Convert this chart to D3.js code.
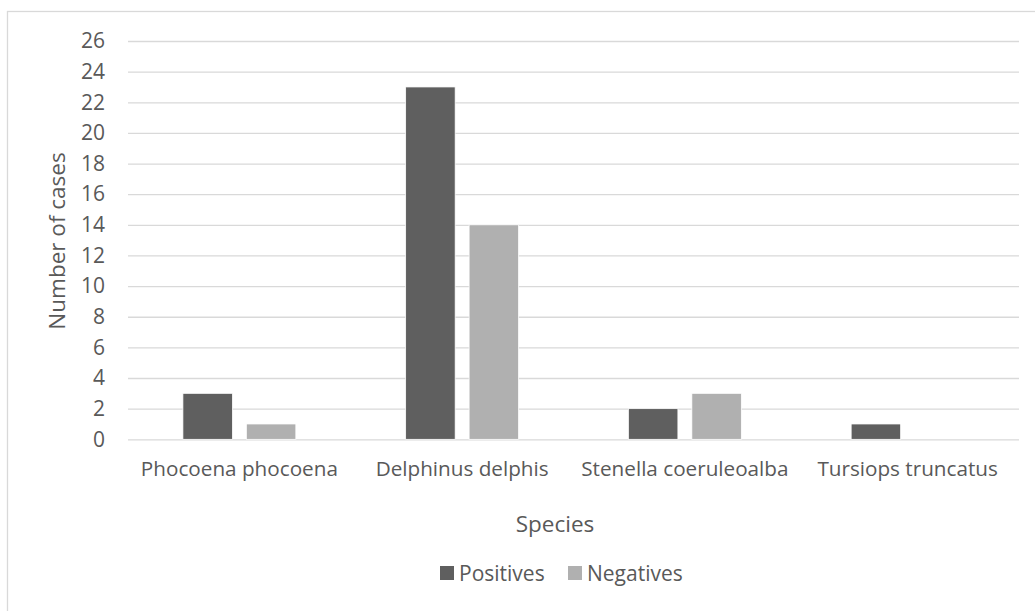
<!DOCTYPE html>
<html>
<head>
<meta charset="utf-8">
<script src="https://cdn.jsdelivr.net/npm/d3@7"></script>
<style>
  html, body { margin: 0; padding: 0; background: #fff; }
  svg { display: block; }
  text { font-family: "Open Sans", "Liberation Sans", sans-serif; fill: #595959; }
</style>
</head>
<body>
<svg id="chart" width="1035" height="611"></svg>
<script>
const categories = ["Phocoena phocoena", "Delphinus delphis", "Stenella coeruleoalba", "Tursiops truncatus"];
const seriesNames = ["Positives", "Negatives"];
const positives = [3, 23, 2, 1];
const negatives = [1, 14, 3, 0];
const yTicks = [0, 2, 4, 6, 8, 10, 12, 14, 16, 18, 20, 22, 24, 26];
const colors = ["#5f5f5f", "#b0b0b0"];
const xTitle = "Species";
const yTitle = "Number of cases";

const svg = d3.select("#chart");
const W = 1035, H = 611;

// outer chart frame
svg.append("rect")
  .attr("x", 7.5).attr("y", 11.5)
  .attr("width", W + 10).attr("height", H + 10)
  .attr("fill", "none").attr("stroke", "#d9d9d9").attr("stroke-width", 1.3);

const plot = { left: 128, right: 1019, top: 41, bottom: 439.3 };

const y = d3.scaleLinear().domain([0, 26]).range([plot.bottom, plot.top]);
const x0 = d3.scaleBand().domain(categories).range([plot.left, plot.right])
  .paddingInner(0.493).paddingOuter(0.2465);
const x1 = d3.scaleBand().domain(seriesNames).range([0, x0.bandwidth()])
  .paddingInner(0.22).paddingOuter(0);

// gridlines
const yAxis = d3.axisLeft(y).tickValues(yTicks).tickSize(-(plot.right - plot.left)).tickPadding(23);
const gy = svg.append("g").attr("transform", `translate(${plot.left},0)`).call(yAxis);
gy.select(".domain").remove();
gy.selectAll(".tick line").attr("stroke", "#d9d9d9").attr("stroke-width", 1.3);
gy.selectAll(".tick text").style("font-size", "21px").attr("fill", "#595959")
  .style("font-family", "'Open Sans', sans-serif");

// bars
const data = categories.map((c, i) => ({ cat: c, vals: [
  { s: seriesNames[0], v: positives[i] },
  { s: seriesNames[1], v: negatives[i] }
]}));

const groups = svg.append("g").selectAll("g").data(data).join("g")
  .attr("transform", d => `translate(${x0(d.cat)},0)`);
groups.selectAll("rect").data(d => d.vals.filter(e => e.v > 0)).join("rect")
  .attr("x", d => x1(d.s))
  .attr("y", d => y(d.v))
  .attr("width", x1.bandwidth())
  .attr("height", d => y(0) - y(d.v))
  .attr("fill", (d) => colors[seriesNames.indexOf(d.s)])
  .attr("stroke", "#ffffff").attr("stroke-width", 0.75);

// x axis labels
const xAxis = d3.axisBottom(x0).tickSize(0).tickPadding(22);
const gx = svg.append("g").attr("transform", `translate(0,${plot.bottom})`).call(xAxis);
gx.select(".domain").remove();
gx.selectAll(".tick text").style("font-size", "20.7px").attr("fill", "#595959")
  .style("font-family", "'Open Sans', sans-serif");

// axis titles
svg.append("text").attr("x", 555).attr("y", 531.5)
  .attr("text-anchor", "middle").style("font-size", "22.5px").text(xTitle);
svg.append("text")
  .attr("transform", `translate(65,241) rotate(-90)`)
  .attr("text-anchor", "middle").style("font-size", "22.5px").text(yTitle);

// legend
const legend = svg.append("g");
const legendX = [440, 568];
seriesNames.forEach((s, i) => {
  legend.append("rect").attr("x", legendX[i]).attr("y", 566).attr("width", 14).attr("height", 14)
    .attr("fill", colors[i]);
  legend.append("text").attr("x", legendX[i] + 19).attr("y", 580.5)
    .style("font-size", "21px").text(s);
});
</script>
</body>
</html>
